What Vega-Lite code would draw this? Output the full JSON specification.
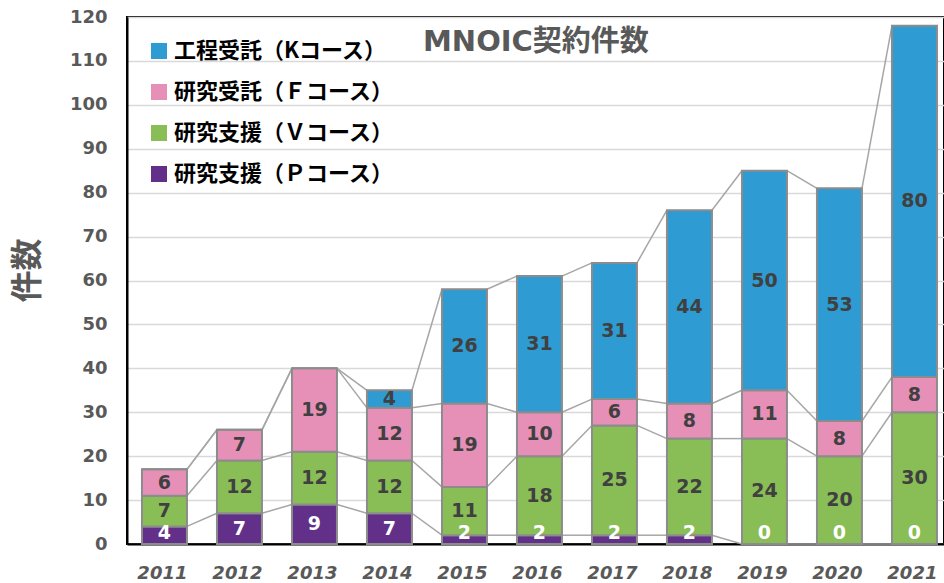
{
  "$schema": "https://vega.github.io/schema/vega-lite/v6.json",
  "width": 817,
  "height": 527,
  "autosize": "none",
  "padding": {"left": 127, "top": 17, "right": 0, "bottom": 39},
  "background": "white",
  "config": {
    "view": {"stroke": "black", "strokeWidth": 2},
    "font": "DejaVu Sans, Noto Sans CJK JP"
  },
  "title": {
    "text": "MNOIC契約件数",
    "anchor": "start",
    "frame": "group",
    "orient": "top",
    "offset": 0,
    "baseline": "middle",
    "dx": 296,
    "dy": 63,
    "fontSize": 29,
    "fontWeight": "bold",
    "color": "#595959",
    "font": "DejaVu Sans, Noto Sans CJK JP"
  },
  "data": {
    "values": [
      {"year": "2011", "course": "研究支援（Ｐコース）", "k": 1, "n": 4},
      {"year": "2011", "course": "研究支援（Ｖコース）", "k": 2, "n": 7},
      {"year": "2011", "course": "研究受託（Ｆコース）", "k": 3, "n": 6},
      {"year": "2011", "course": "工程受託（Kコース）", "k": 4, "n": 0},
      {"year": "2012", "course": "研究支援（Ｐコース）", "k": 1, "n": 7},
      {"year": "2012", "course": "研究支援（Ｖコース）", "k": 2, "n": 12},
      {"year": "2012", "course": "研究受託（Ｆコース）", "k": 3, "n": 7},
      {"year": "2012", "course": "工程受託（Kコース）", "k": 4, "n": 0},
      {"year": "2013", "course": "研究支援（Ｐコース）", "k": 1, "n": 9},
      {"year": "2013", "course": "研究支援（Ｖコース）", "k": 2, "n": 12},
      {"year": "2013", "course": "研究受託（Ｆコース）", "k": 3, "n": 19},
      {"year": "2013", "course": "工程受託（Kコース）", "k": 4, "n": 0},
      {"year": "2014", "course": "研究支援（Ｐコース）", "k": 1, "n": 7},
      {"year": "2014", "course": "研究支援（Ｖコース）", "k": 2, "n": 12},
      {"year": "2014", "course": "研究受託（Ｆコース）", "k": 3, "n": 12},
      {"year": "2014", "course": "工程受託（Kコース）", "k": 4, "n": 4},
      {"year": "2015", "course": "研究支援（Ｐコース）", "k": 1, "n": 2},
      {"year": "2015", "course": "研究支援（Ｖコース）", "k": 2, "n": 11},
      {"year": "2015", "course": "研究受託（Ｆコース）", "k": 3, "n": 19},
      {"year": "2015", "course": "工程受託（Kコース）", "k": 4, "n": 26},
      {"year": "2016", "course": "研究支援（Ｐコース）", "k": 1, "n": 2},
      {"year": "2016", "course": "研究支援（Ｖコース）", "k": 2, "n": 18},
      {"year": "2016", "course": "研究受託（Ｆコース）", "k": 3, "n": 10},
      {"year": "2016", "course": "工程受託（Kコース）", "k": 4, "n": 31},
      {"year": "2017", "course": "研究支援（Ｐコース）", "k": 1, "n": 2},
      {"year": "2017", "course": "研究支援（Ｖコース）", "k": 2, "n": 25},
      {"year": "2017", "course": "研究受託（Ｆコース）", "k": 3, "n": 6},
      {"year": "2017", "course": "工程受託（Kコース）", "k": 4, "n": 31},
      {"year": "2018", "course": "研究支援（Ｐコース）", "k": 1, "n": 2},
      {"year": "2018", "course": "研究支援（Ｖコース）", "k": 2, "n": 22},
      {"year": "2018", "course": "研究受託（Ｆコース）", "k": 3, "n": 8},
      {"year": "2018", "course": "工程受託（Kコース）", "k": 4, "n": 44},
      {"year": "2019", "course": "研究支援（Ｐコース）", "k": 1, "n": 0},
      {"year": "2019", "course": "研究支援（Ｖコース）", "k": 2, "n": 24},
      {"year": "2019", "course": "研究受託（Ｆコース）", "k": 3, "n": 11},
      {"year": "2019", "course": "工程受託（Kコース）", "k": 4, "n": 50},
      {"year": "2020", "course": "研究支援（Ｐコース）", "k": 1, "n": 0},
      {"year": "2020", "course": "研究支援（Ｖコース）", "k": 2, "n": 20},
      {"year": "2020", "course": "研究受託（Ｆコース）", "k": 3, "n": 8},
      {"year": "2020", "course": "工程受託（Kコース）", "k": 4, "n": 53},
      {"year": "2021", "course": "研究支援（Ｐコース）", "k": 1, "n": 0},
      {"year": "2021", "course": "研究支援（Ｖコース）", "k": 2, "n": 30},
      {"year": "2021", "course": "研究受託（Ｆコース）", "k": 3, "n": 8},
      {"year": "2021", "course": "工程受託（Kコース）", "k": 4, "n": 80}
    ]
  },
  "layer": [
    {
      "transform": [
        {"stack": "n", "groupby": ["year"], "sort": [{"field": "k"}], "as": ["s0", "s1"]},
        {"window": [{"op": "lead", "field": "s1", "as": "s1n"}, {"op": "lead", "field": "year", "as": "yn"}], "groupby": ["course"], "sort": [{"field": "year"}]},
        {"filter": "datum.yn != null"}
      ],
      "mark": {"type": "rule", "color": "#a6a6a6", "strokeWidth": 1.5, "xOffset": 22.5, "x2Offset": -22.5},
      "encoding": {
        "x": {"field": "year", "type": "ordinal"},
        "x2": {"field": "yn"},
        "y": {"field": "s1", "type": "quantitative", "title": "件数"},
        "y2": {"field": "s1n"}
      }
    },
    {
      "mark": {"type": "bar", "stroke": "#8c8c8c", "strokeWidth": 2},
      "encoding": {
        "x": {
          "field": "year", "type": "ordinal",
          "scale": {"paddingInner": 0.4, "paddingOuter": 0.1467, "align": 0.68},
          "axis": {"title": null, "labelFontSize": 18, "labelFontStyle": "italic", "labelFontWeight": "bold", "labelColor": "#595959", "labelPadding": 29, "labelOffset": 23, "ticks": false, "domainColor": "black", "domainWidth": 2, "labelAngle": 0}
        },
        "y": {
          "field": "n", "type": "quantitative", "stack": "zero",
          "scale": {"domain": [0, 120]},
          "title": "件数",
          "axis": {"tickCount": 12, "titleFontSize": 32, "titleColor": "#595959", "titleFontWeight": "bold", "titleFont": "Noto Sans CJK JP", "titlePadding": 25, "titleY": 253, "labelFontSize": 18, "labelColor": "#595959", "labelFontWeight": "bold", "labelPadding": 20, "ticks": false, "domainColor": "black", "domainWidth": 2, "gridColor": "#d9d9d9", "gridWidth": 1.5}
        },
        "color": {
          "field": "course", "type": "nominal",
          "scale": {
            "domain": ["工程受託（Kコース）", "研究受託（Ｆコース）", "研究支援（Ｖコース）", "研究支援（Ｐコース）"],
            "range": ["#2e9bd3", "#e690b8", "#89bd55", "#623089"]
          },
          "legend": {"orient": "none", "legendX": 21, "legendY": 23, "title": null, "symbolType": "square", "symbolSize": 256, "symbolStrokeWidth": 0, "labelFontSize": 22, "labelFont": "Noto Sans CJK JP", "labelFontWeight": "bold", "labelColor": "black", "rowPadding": 19, "labelOffset": 4, "labelLimit": 400, "symbolOpacity": 1}
        },
        "order": {"field": "k", "type": "quantitative"}
      }
    },
    {
      "transform": [
        {"stack": "n", "groupby": ["year"], "sort": [{"field": "k"}], "as": ["s0", "s1"]},
        {"calculate": "datum.k == 1 ? max((datum.s0 + datum.s1) / 2, 2.6) : (datum.s0 + datum.s1) / 2", "as": "ly"},
        {"filter": "datum.n > 0 || datum.k == 1"}
      ],
      "mark": {"type": "text", "fontSize": 19, "fontWeight": "bold", "baseline": "middle", "font": "DejaVu Sans"},
      "encoding": {
        "x": {"field": "year", "type": "ordinal"},
        "y": {"field": "ly", "type": "quantitative", "title": "件数"},
        "text": {"field": "n", "type": "quantitative"},
        "color": {"condition": {"test": "datum.k == 1", "value": "white"}, "value": "#404040"}
      }
    }
  ]
}
